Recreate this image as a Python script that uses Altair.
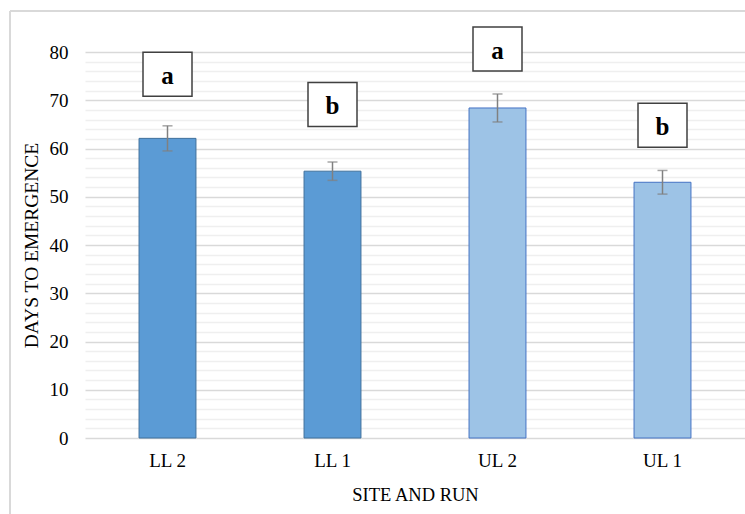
import altair as alt
import pandas as pd

# Mean days to emergence by site and run, with standard errors
sites = ["LL 2", "LL 1", "UL 2", "UL 1"]
means = [62.1, 55.3, 68.4, 53.0]
errors = [2.6, 1.9, 2.9, 2.45]
groups = ["LL", "LL", "UL", "UL"]

# Significance letters and the height (in days) where each letter box sits
letters = ["a", "b", "a", "b"]
letter_y = [75.4, 69.1, 80.6, 64.8]

# Axis ticks: labelled major steps, unlabelled minor grid steps
major_ticks = list(range(0, 81, 10))
minor_ticks = list(range(0, 81, 2))

df = pd.DataFrame({
    "site": sites,
    "mean": means,
    "err": errors,
    "group": groups,
    "letter": letters,
    "ly": letter_y,
})

FONT = "Liberation Serif"
BOX_HALF = 4.56  # half height of a letter box, in days

y_scale = alt.Scale(domain=[0, 80], nice=False)
x_scale = alt.Scale(paddingInner=0.655, paddingOuter=0.3275)

x_axis = alt.Axis(
    labelAngle=0, labelFont=FONT, labelFontSize=19, labelColor="#000000",
    labelPadding=13, ticks=False, domain=False,
    titleFont=FONT, titleFontSize=18.5, titleFontWeight="normal",
    titleColor="#000000", titlePadding=15,
)
y_axis = alt.Axis(
    values=minor_ticks,
    labelExpr="indexof(" + str(major_ticks) + ", datum.value) >= 0 ? datum.label : ''",
    labelOverlap=False,
    labelFont=FONT, labelFontSize=19, labelColor="#000000",
    labelPadding=17, ticks=False, domain=False,
    gridColor={"condition": {"test": "datum.value % 10 === 0", "value": "#d9d9d9"},
               "value": "#efefef"},
    gridWidth=1.3,
    titleFont=FONT, titleFontSize=19.5, titleFontWeight="normal",
    titleColor="#000000", titlePadding=8,
)


def x_enc():
    return alt.X("site:N", sort=sites, title="SITE AND RUN", scale=x_scale, axis=x_axis)


def y_enc(field):
    return alt.Y(field, scale=y_scale, title="DAYS TO EMERGENCE", axis=y_axis)


bars = alt.Chart(df).mark_bar(strokeWidth=1).encode(
    x=x_enc(),
    y=y_enc("mean:Q"),
    fill=alt.Color("group:N", scale=alt.Scale(domain=["LL", "UL"], range=["#5b9bd5", "#9dc3e6"]), legend=None),
    stroke=alt.Stroke("group:N", scale=alt.Scale(domain=["LL", "UL"], range=["#41719c", "#4472c4"]), legend=None),
)

err_base = alt.Chart(df).transform_calculate(
    lo="datum.mean - datum.err", hi="datum.mean + datum.err"
)

err_rule = err_base.mark_rule(color="#808080", strokeWidth=1.5).encode(
    x=x_enc(), y=y_enc("lo:Q"), y2="hi:Q",
)
cap_hi = err_base.mark_tick(color="#808080", thickness=1.5, size=10, orient="horizontal").encode(
    x=x_enc(), y=y_enc("hi:Q"),
)
cap_lo = err_base.mark_tick(color="#808080", thickness=1.5, size=10, orient="horizontal").encode(
    x=x_enc(), y=y_enc("lo:Q"),
)

boxes = alt.Chart(df).transform_calculate(
    b0=f"datum.ly - {BOX_HALF}", b1=f"datum.ly + {BOX_HALF}"
).mark_bar(size=49, fill="#ffffff", stroke="#404040", strokeWidth=1.5).encode(
    x=x_enc(), y=y_enc("b0:Q"), y2="b1:Q",
)

letter_text = alt.Chart(df).mark_text(
    font=FONT, fontSize=25, fontWeight="bold", color="#000000",
    baseline="alphabetic", dy=9.5,
).encode(
    x=x_enc(), y=y_enc("ly:Q"), text="letter:N",
)

# light frame around the whole figure
frame_left = alt.Chart(df).mark_rule(color="#d9d9d9", strokeWidth=1.5).encode(
    x=alt.value(-75), y=alt.value(-41), y2=alt.value(480)
)
frame_top = alt.Chart(df).mark_rule(color="#d9d9d9", strokeWidth=1.5).encode(
    x=alt.value(-75), x2=alt.value(700), y=alt.value(-41)
)

chart = alt.layer(
    bars, err_rule, cap_hi, cap_lo, boxes, letter_text, frame_left, frame_top
).properties(
    width=660,
    height=386,
    autosize=alt.AutoSizeParams(type="none"),
    padding={"left": 85, "top": 52, "right": 0, "bottom": 76},
    background="#ffffff",
).configure_view(stroke=None)

chart.save("out.html", embed_options={"renderer": "svg", "actions": False})
